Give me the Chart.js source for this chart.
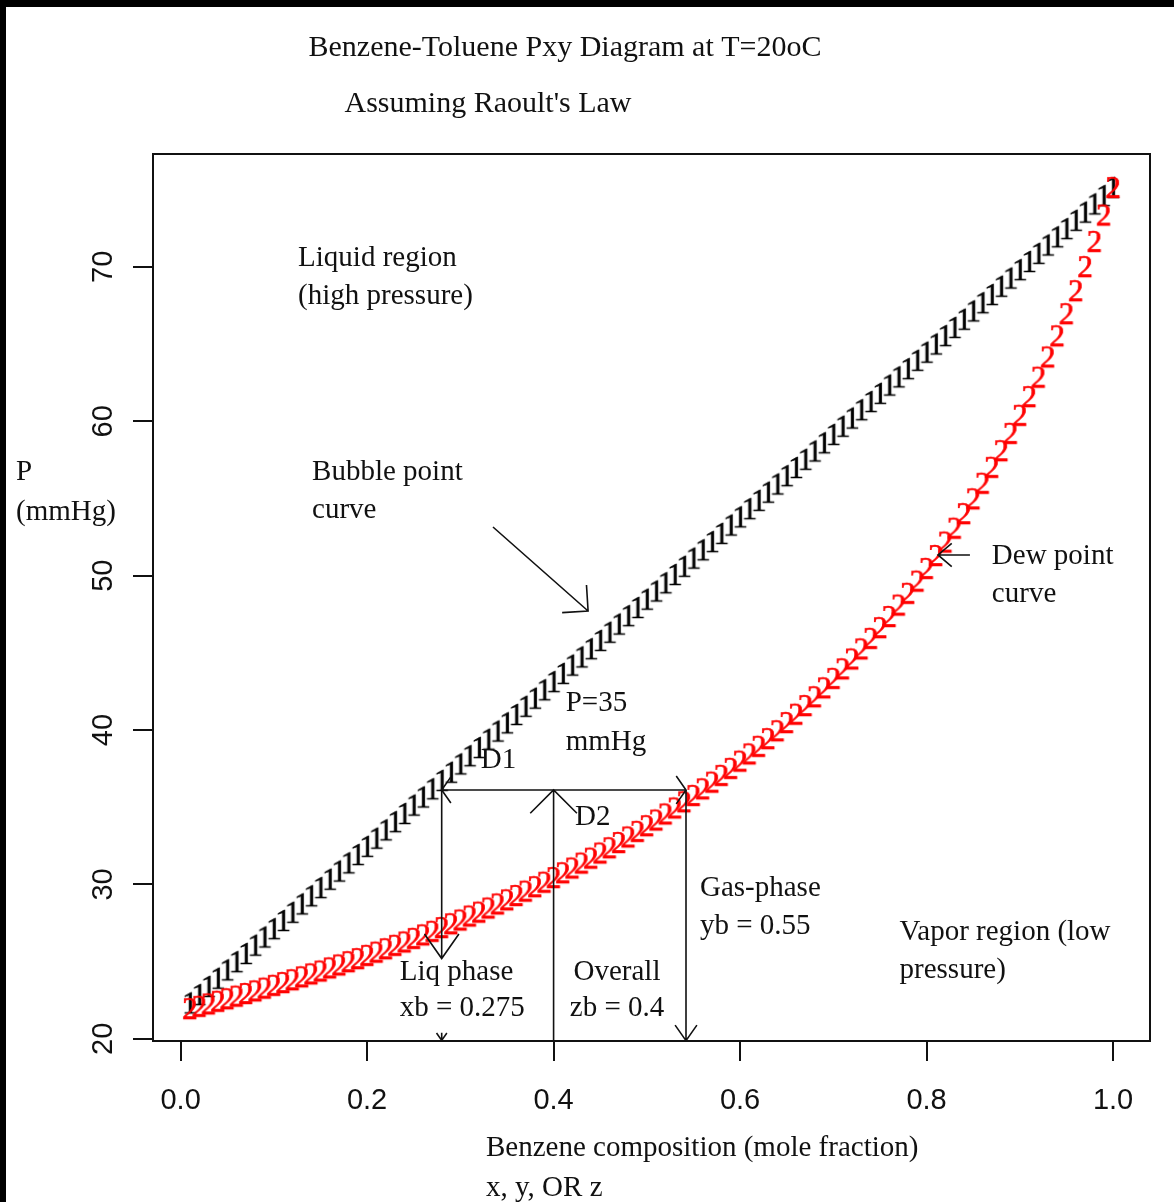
<!DOCTYPE html>
<html>
<head>
<meta charset="utf-8">
<title>Benzene-Toluene Pxy Diagram</title>
<script src="https://cdn.jsdelivr.net/npm/chart.js@4.4.1/dist/chart.umd.min.js"></script>
<style>
  html, body { margin: 0; padding: 0; background: #fff; }
  #wrap { width: 1174px; height: 1202px; }
</style>
</head>
<body>
<div id="wrap"><canvas id="pxy" width="1174" height="1202"></canvas></div>
<script>
// mole fraction of benzene (x for bubble curve, y for dew curve)
const composition = [
  0.01,0.02,0.03,0.04,0.05,0.06,0.07,0.08,0.09,0.10,
  0.11,0.12,0.13,0.14,0.15,0.16,0.17,0.18,0.19,0.20,
  0.21,0.22,0.23,0.24,0.25,0.26,0.27,0.28,0.29,0.30,
  0.31,0.32,0.33,0.34,0.35,0.36,0.37,0.38,0.39,0.40,
  0.41,0.42,0.43,0.44,0.45,0.46,0.47,0.48,0.49,0.50,
  0.51,0.52,0.53,0.54,0.55,0.56,0.57,0.58,0.59,0.60,
  0.61,0.62,0.63,0.64,0.65,0.66,0.67,0.68,0.69,0.70,
  0.71,0.72,0.73,0.74,0.75,0.76,0.77,0.78,0.79,0.80,
  0.81,0.82,0.83,0.84,0.85,0.86,0.87,0.88,0.89,0.90,
  0.91,0.92,0.93,0.94,0.95,0.96,0.97,0.98,0.99,1.00
];
// bubble point pressure, mmHg (black "1")
const bubbleP = [
  22.36,22.90,23.43,23.96,24.50,25.03,25.56,26.10,26.63,27.17,
  27.70,28.23,28.77,29.30,29.83,30.37,30.90,31.43,31.97,32.50,
  33.03,33.57,34.10,34.63,35.17,35.70,36.23,36.77,37.30,37.84,
  38.37,38.90,39.44,39.97,40.50,41.04,41.57,42.10,42.64,43.17,
  43.70,44.24,44.77,45.30,45.84,46.37,46.90,47.44,47.97,48.51,
  49.04,49.57,50.11,50.64,51.17,51.71,52.24,52.77,53.31,53.84,
  54.37,54.91,55.44,55.97,56.51,57.04,57.57,58.11,58.64,59.18,
  59.71,60.24,60.78,61.31,61.84,62.38,62.91,63.44,63.98,64.51,
  65.04,65.58,66.11,66.64,67.18,67.71,68.24,68.78,69.31,69.85,
  70.38,70.91,71.45,71.98,72.51,73.05,73.58,74.11,74.65,75.18
];
// dew point pressure, mmHg (red "2")
const dewP = [
  21.99,22.14,22.30,22.47,22.63,22.80,22.97,23.14,23.32,23.50,
  23.68,23.86,24.05,24.24,24.43,24.63,24.82,25.03,25.23,25.44,
  25.65,25.87,26.09,26.31,26.54,26.77,27.00,27.24,27.49,27.73,
  27.99,28.24,28.51,28.77,29.04,29.32,29.60,29.89,30.18,30.48,
  30.79,31.10,31.42,31.74,32.07,32.41,32.75,33.11,33.47,33.84,
  34.21,34.60,34.99,35.39,35.80,36.23,36.66,37.10,37.55,38.02,
  38.49,38.98,39.48,39.99,40.52,41.06,41.62,42.19,42.77,43.38,
  44.00,44.64,45.29,45.97,46.67,47.39,48.13,48.89,49.68,50.50,
  51.34,52.21,53.11,54.05,55.01,56.02,57.05,58.13,59.25,60.42,
  61.63,62.89,64.20,65.57,67.00,68.49,70.05,71.68,73.39,75.18
];
const xTicks = [0, 0.2, 0.4, 0.6, 0.8, 1.0];
const xTickLabels = ['0.0', '0.2', '0.4', '0.6', '0.8', '1.0'];
const yTicks = [20, 30, 40, 50, 60, 70];
const yTickLabels = ['20', '30', '40', '50', '60', '70'];

// text placed in data coordinates [x, P]
const notes = [
  { t: 'Liquid region', x: 0.126, y: 70.57 },
  { t: '(high pressure)', x: 0.126, y: 68.11 },
  { t: 'Bubble point', x: 0.141, y: 56.71 },
  { t: 'curve', x: 0.141, y: 54.25 },
  { t: 'P=35', x: 0.413, y: 41.75 },
  { t: 'mmHg', x: 0.413, y: 39.23 },
  { t: 'D1', x: 0.322, y: 38.06 },
  { t: 'D2', x: 0.423, y: 34.37 },
  { t: 'Dew point', x: 0.870, y: 51.27 },
  { t: 'curve', x: 0.870, y: 48.81 },
  { t: 'Gas-phase', x: 0.557, y: 29.77 },
  { t: 'yb = 0.55', x: 0.557, y: 27.31 },
  { t: 'Vapor region (low', x: 0.771, y: 26.92 },
  { t: 'pressure)', x: 0.771, y: 24.46 },
  { t: 'Liq phase', x: 0.235, y: 24.33 },
  { t: 'xb = 0.275', x: 0.235, y: 22.0 },
  { t: 'Overall', x: 0.468, y: 24.33, align: 'center' },
  { t: 'zb = 0.4', x: 0.468, y: 22.0, align: 'center' }
];
// arrows in data coordinates: from, to, head length (px), head angle (deg)
const arrows = [
  { from: [0.4, 36.12], to: [0.28, 36.12], len: 16, ang: 55 },
  { from: [0.4, 36.12], to: [0.542, 36.12], len: 17, ang: 55 },
  { from: [0.4, 19.86], to: [0.4, 36.12], len: 33, ang: 45 },
  { from: [0.28, 36.12], to: [0.28, 25.2], len: 30, ang: 35 },
  { from: [0.28, 20.4], to: [0.28, 19.9], len: 9, ang: 35 },
  { from: [0.542, 36.12], to: [0.542, 19.88], len: 19, ang: 35 },
  { from: [0.335, 53.15], to: [0.437, 47.71], len: 26, ang: 45 },
  { from: [0.8465, 51.34], to: [0.8122, 51.34], len: 18, ang: 40 }
];

const SERIF = '"Liberation Serif", "Times New Roman", serif';
const SANS = '"Liberation Sans", Arial, sans-serif';

function glyph(ch, color) {
  const c = document.createElement('canvas');
  c.width = 34; c.height = 38;
  const g = c.getContext('2d');
  g.font = '31px ' + SERIF;
  g.fillStyle = color;
  g.strokeStyle = color;
  g.lineWidth = 0.7;
  g.textAlign = 'center';
  g.textBaseline = 'alphabetic';
  const m = g.measureText(ch);
  const h = m.actualBoundingBoxAscent + m.actualBoundingBoxDescent;
  const by = c.height / 2 + h / 2 - m.actualBoundingBoxDescent;
  g.fillText(ch, c.width / 2, by);
  g.strokeText(ch, c.width / 2, by);
  return c;
}

function drawArrow(ctx, x0, y0, x1, y1, len, ang) {
  const back = Math.atan2(y0 - y1, x0 - x1);
  const a = ang * Math.PI / 180;
  ctx.beginPath();
  ctx.moveTo(x0, y0);
  ctx.lineTo(x1, y1);
  ctx.moveTo(x1 + len * Math.cos(back - a), y1 + len * Math.sin(back - a));
  ctx.lineTo(x1, y1);
  ctx.lineTo(x1 + len * Math.cos(back + a), y1 + len * Math.sin(back + a));
  ctx.stroke();
}

const decor = {
  id: 'decor',
  beforeDraw(chart) {
    const ctx = chart.ctx;
    ctx.save();
    ctx.fillStyle = '#fff';
    ctx.fillRect(0, 0, chart.width, chart.height);
    ctx.fillStyle = '#000';
    ctx.fillRect(0, 0, chart.width, 7);
    ctx.fillRect(0, 0, 6, chart.height);
    ctx.restore();
  },
  afterDatasetsDraw(chart) {
    const ctx = chart.ctx;
    const xs = chart.scales.x, ys = chart.scales.y;
    ctx.save();
    ctx.strokeStyle = '#111';
    ctx.lineWidth = 1.6;
    arrows.forEach(a => {
      drawArrow(ctx,
        xs.getPixelForValue(a.from[0]), ys.getPixelForValue(a.from[1]),
        xs.getPixelForValue(a.to[0]), ys.getPixelForValue(a.to[1]),
        a.len, a.ang);
    });
    ctx.fillStyle = '#111';
    ctx.font = '29px ' + SERIF;
    ctx.textBaseline = 'middle';
    notes.forEach(n => {
      ctx.textAlign = n.align || 'left';
      ctx.fillText(n.t, xs.getPixelForValue(n.x), ys.getPixelForValue(n.y));
    });
    ctx.restore();
  },
  afterDraw(chart) {
    const ctx = chart.ctx;
    const area = chart.chartArea;
    const xs = chart.scales.x, ys = chart.scales.y;
    ctx.save();
    // plot box
    ctx.strokeStyle = '#111';
    ctx.lineWidth = 2;
    ctx.strokeRect(area.left, area.top, area.right - area.left, area.bottom - area.top);
    // tick labels
    ctx.fillStyle = '#111';
    ctx.font = '29px ' + SANS;
    ctx.textAlign = 'center';
    ctx.textBaseline = 'middle';
    xs.ticks.forEach((t, i) => {
      ctx.fillText(xTickLabels[i], xs.getPixelForValue(t.value), 1101);
    });
    ys.ticks.forEach((t, i) => {
      ctx.save();
      ctx.translate(104, ys.getPixelForValue(t.value));
      ctx.rotate(-Math.PI / 2);
      ctx.fillText(yTickLabels[i], 0, 0);
      ctx.restore();
    });
    // titles
    ctx.font = '30px ' + SERIF;
    ctx.fillText('Benzene-Toluene Pxy Diagram at T=20oC', 565, 48);
    ctx.fillText("Assuming Raoult's Law", 488, 104);
    ctx.font = '29px ' + SERIF;
    ctx.textAlign = 'left';
    ctx.fillText('Benzene composition (mole fraction)', 486, 1148);
    ctx.fillText('x, y, OR z', 486, 1188);
    ctx.fillText('P', 16, 472);
    ctx.fillText('(mmHg)', 16, 512);
    ctx.restore();
  }
};

const ctx = document.getElementById('pxy');
const one = glyph('1', '#000');
const two = glyph('2', '#ff0000');

new Chart(ctx, {
  type: 'scatter',
  data: {
    datasets: [
      {
        label: 'Dew point',
        data: composition.map((y, i) => ({ x: y, y: dewP[i] })),
        pointStyle: two,
        pointRadius: 10,
        showLine: false
      },
      {
        label: 'Bubble point',
        data: composition.map((x, i) => ({ x: x, y: bubbleP[i] })),
        pointStyle: one,
        pointRadius: 10,
        showLine: false
      }
    ]
  },
  plugins: [decor],
  options: {
    responsive: false,
    animation: false,
    devicePixelRatio: 1,
    layout: { padding: { left: 0, top: 154, right: 24, bottom: 0 } },
    plugins: { legend: { display: false }, tooltip: { enabled: false } },
    scales: {
      x: {
        type: 'linear',
        min: -0.0296,
        max: 1.0396,
        afterBuildTicks: s => { s.ticks = xTicks.map(v => ({ value: v })); },
        afterFit: s => { s.height = 161; },
        ticks: { display: false },
        border: { display: false },
        grid: { drawOnChartArea: false, drawTicks: true, tickLength: 20, color: '#111', lineWidth: 2 }
      },
      y: {
        type: 'linear',
        min: 19.86,
        max: 77.31,
        afterBuildTicks: s => { s.ticks = yTicks.map(v => ({ value: v })); },
        afterFit: s => { s.width = 153; },
        ticks: { display: false },
        border: { display: false },
        grid: { drawOnChartArea: false, drawTicks: true, tickLength: 20, color: '#111', lineWidth: 2 }
      }
    }
  }
});
</script>
</body>
</html>
